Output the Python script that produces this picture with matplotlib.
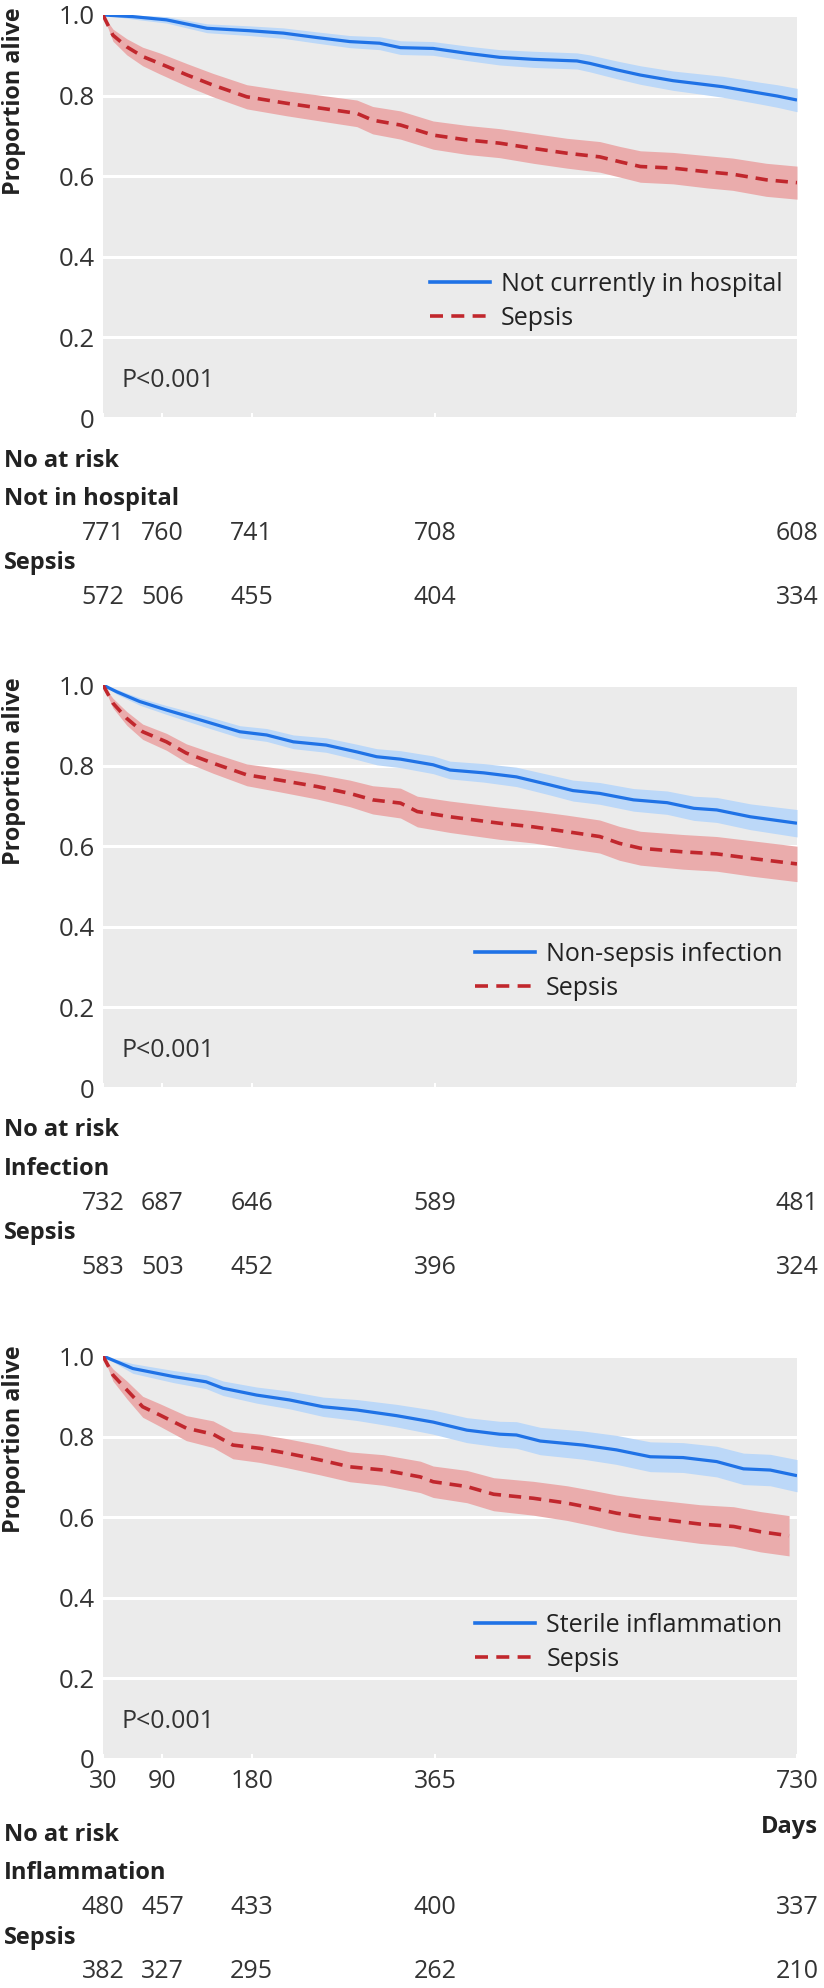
import matplotlib
matplotlib.use('Agg')
import matplotlib.pyplot as plt
from matplotlib.transforms import blended_transform_factory as btf
from matplotlib.lines import Line2D

plt.rcParams['font.family'] = ['Open Sans', 'DejaVu Sans']

# ---------------- data ----------------
risk_days = [30, 90, 180, 365, 730]
x_ticks = [30, 90, 180, 365, 730]
y_ticks = [0, 0.2, 0.4, 0.6, 0.8, 1.0]
y_tick_labels = ['0', '0.2', '0.4', '0.6', '0.8', '1.0']

# Panel 1: Not currently in hospital vs Sepsis
p1_ctrl_days = [30, 60, 94, 135, 178, 212, 246, 279, 309, 330, 363, 397, 430, 464, 508, 521, 548, 572, 605, 632, 655, 693, 710, 730]
p1_ctrl_surv = [1.0, .996, .988, .967, .961, .955, .944, .934, .930, .919, .917, .905, .895, .890, .886, .880, .864, .851, .837, .829, .822, .806, .799, .789]
p1_ctrl_lo = [1.0, .990, .980, .956, .949, .942, .930, .919, .914, .902, .900, .887, .876, .870, .866, .859, .842, .828, .813, .804, .796, .779, .771, .760]
p1_ctrl_hi = [1.0, 1.0, .996, .978, .973, .968, .958, .949, .946, .936, .934, .923, .914, .910, .906, .901, .886, .874, .861, .854, .848, .833, .827, .818]

p1_sep_days = [30, 40, 54, 70, 87, 115, 141, 175, 215, 249, 286, 302, 330, 363, 397, 430, 464, 498, 531, 551, 572, 605, 639, 665, 699, 730]
p1_sep_surv = [1.0, .950, .921, .897, .880, .851, .826, .797, .781, .769, .756, .739, .727, .702, .690, .682, .669, .657, .648, .636, .624, .620, .611, .605, .591, .584]
p1_sep_lo = [1.0, .935, .901, .874, .854, .823, .797, .767, .750, .737, .723, .705, .692, .667, .654, .646, .632, .620, .610, .598, .585, .581, .571, .565, .550, .543]
p1_sep_hi = [1.0, .965, .941, .920, .906, .879, .855, .827, .812, .801, .789, .773, .762, .737, .726, .718, .706, .694, .686, .674, .663, .659, .651, .645, .632, .625]

p1_risk_ctrl = [771, 760, 741, 708, 608]
p1_risk_sep = [572, 506, 455, 404, 334]

# Panel 2: Non-sepsis infection vs Sepsis
p2_ctrl_days = [30, 44, 67, 94, 134, 168, 195, 222, 255, 286, 306, 330, 363, 380, 414, 447, 481, 504, 531, 565, 599, 626, 649, 683, 730]
p2_ctrl_surv = [1.0, .983, .959, .938, .909, .884, .876, .859, .851, .834, .822, .816, .802, .789, .782, .772, .752, .738, .731, .715, .708, .694, .690, .673, .657]
p2_ctrl_lo = [1.0, .977, .950, .927, .895, .869, .860, .842, .833, .815, .802, .795, .780, .767, .759, .748, .727, .712, .704, .687, .679, .664, .659, .641, .623]
p2_ctrl_hi = [1.0, .989, .968, .949, .923, .899, .892, .876, .869, .853, .842, .837, .824, .811, .805, .796, .777, .764, .758, .743, .737, .724, .721, .705, .691]

p2_sep_days = [30, 40, 54, 70, 94, 114, 141, 175, 208, 246, 279, 302, 330, 347, 380, 430, 464, 498, 531, 551, 572, 615, 649, 683, 730]
p2_sep_surv = [1.0, .955, .917, .884, .859, .831, .806, .777, .764, .748, .731, .715, .707, .686, .673, .657, .648, .636, .624, .607, .595, .586, .581, .570, .556]
p2_sep_lo = [1.0, .943, .900, .865, .838, .808, .781, .750, .735, .717, .698, .680, .670, .648, .634, .617, .608, .595, .583, .565, .553, .543, .538, .526, .512]
p2_sep_hi = [1.0, .967, .934, .903, .880, .854, .831, .804, .793, .779, .764, .750, .744, .724, .712, .697, .688, .677, .665, .649, .637, .629, .624, .614, .600]

p2_risk_ctrl = [732, 687, 646, 589, 481]
p2_risk_sep = [583, 503, 452, 396, 324]

# Panel 3: Sterile inflammation vs Sepsis
p3_ctrl_days = [30, 60, 101, 134, 151, 185, 218, 252, 286, 326, 363, 397, 430, 447, 471, 514, 548, 582, 615, 649, 676, 703, 730]
p3_ctrl_surv = [1.0, .969, .949, .936, .920, .903, .891, .874, .866, .852, .836, .816, .806, .804, .789, .779, .767, .750, .748, .738, .720, .717, .703]
p3_ctrl_lo = [1.0, .957, .934, .919, .902, .883, .869, .850, .840, .824, .806, .785, .774, .771, .755, .744, .731, .713, .711, .700, .681, .678, .663]
p3_ctrl_hi = [1.0, .981, .964, .953, .938, .923, .913, .898, .892, .880, .866, .847, .838, .837, .823, .814, .803, .787, .785, .776, .759, .756, .743]

p3_sep_days = [30, 40, 54, 70, 87, 114, 141, 161, 188, 215, 249, 279, 313, 350, 363, 397, 424, 464, 498, 525, 548, 572, 599, 632, 666, 693, 722]
p3_sep_surv = [1.0, .953, .916, .874, .854, .821, .806, .779, .771, .759, .742, .725, .717, .700, .688, .676, .657, .647, .635, .622, .610, .601, .593, .583, .577, .564, .554]
p3_sep_lo = [1.0, .938, .894, .848, .826, .790, .773, .745, .736, .723, .705, .688, .679, .661, .649, .636, .616, .605, .592, .578, .565, .555, .546, .535, .528, .514, .504]
p3_sep_hi = [1.0, .968, .938, .900, .882, .852, .839, .813, .806, .795, .779, .762, .755, .739, .727, .716, .698, .689, .678, .666, .655, .647, .640, .631, .626, .614, .604]

p3_risk_ctrl = [480, 457, 433, 400, 337]
p3_risk_sep = [382, 327, 295, 262, 210]

ctrl_legend = ['Not currently in hospital', 'Non-sepsis infection', 'Sterile inflammation']
ctrl_row = ['Not in hospital', 'Infection', 'Inflammation']

# ---------------- style ----------------
BLUE = '#1f72e6'
RED = '#c1272d'
BLUE_BAND = '#bcd8f8'
RED_BAND = '#eaacac'
BG = '#ebebeb'
TXT = '#333333'
DARK = '#222222'

W, H = 824, 1988
DPI = 100
fig = plt.figure(figsize=(W / DPI, H / DPI), dpi=DPI)


def fy(px):
    return 1 - px / H


panels = [
    dict(top=15, ctrl=(p1_ctrl_days, p1_ctrl_surv, p1_ctrl_lo, p1_ctrl_hi),
         sep=(p1_sep_days, p1_sep_surv, p1_sep_lo, p1_sep_hi),
         risk=(p1_risk_ctrl, p1_risk_sep), ylab_top=7,
         rows=[461, 499, 533, 563, 597], xlabels=False),
    dict(top=685, ctrl=(p2_ctrl_days, p2_ctrl_surv, p2_ctrl_lo, p2_ctrl_hi),
         sep=(p2_sep_days, p2_sep_surv, p2_sep_lo, p2_sep_hi),
         risk=(p2_risk_ctrl, p2_risk_sep), ylab_top=677,
         rows=[1130, 1169, 1203, 1233, 1267], xlabels=False),
    dict(top=1356, ctrl=(p3_ctrl_days, p3_ctrl_surv, p3_ctrl_lo, p3_ctrl_hi),
         sep=(p3_sep_days, p3_sep_surv, p3_sep_lo, p3_sep_hi),
         risk=(p3_risk_ctrl, p3_risk_sep), ylab_top=1345,
         rows=[1835, 1873, 1907, 1938, 1971], xlabels=True),
]

AX_LEFT, AX_W, AX_H = 103, 694, 403

for i, p in enumerate(panels):
    ax = fig.add_axes([AX_LEFT / W, fy(p['top'] + AX_H), AX_W / W, AX_H / H])
    ax.set_facecolor(BG)
    for s in ax.spines.values():
        s.set_visible(False)
    ax.set_xlim(30, 730)
    ax.set_ylim(0, 1)
    ax.set_axisbelow(True)
    ax.yaxis.grid(True, color='white', lw=2.2)
    ax.set_yticks(y_ticks)
    ax.set_yticklabels(y_tick_labels)
    ax.tick_params(axis='y', length=0, pad=6, labelsize=18.5, labelcolor=TXT)
    ax.set_xticks(x_ticks)
    ax.tick_params(axis='x', direction='in', length=3.6, width=1.5, color='white',
                   labelbottom=p['xlabels'], pad=7, labelsize=18, labelcolor=TXT)

    cd, cs, cl, ch = p['ctrl']
    sd, ss, sl, sh = p['sep']
    ax.fill_between(cd, cl, ch, color=BLUE_BAND, lw=0, zorder=1)
    ax.fill_between(sd, sl, sh, color=RED_BAND, lw=0, zorder=1)
    ax.plot(cd, cs, color=BLUE, lw=2.3, zorder=3, solid_capstyle='butt')
    ax.plot(sd, ss, color=RED, lw=2.6, ls=(0, (3.4, 2.2)), zorder=3)

    handles = [Line2D([], [], color=BLUE, lw=2.6),
               Line2D([], [], color=RED, lw=2.6, ls=(0, (3.6, 2.3)))]
    ax.legend(handles, [ctrl_legend[i], 'Sepsis'], loc='upper right',
              bbox_to_anchor=(0.979, 0.362), frameon=False, fontsize=18,
              handlelength=2.4, handletextpad=0.45, labelspacing=0.36,
              borderaxespad=0, borderpad=0, labelcolor=DARK)

    ax.text(0.027, 0.094, 'P<0.001', transform=ax.transAxes, ha='left', va='center',
            fontsize=18, color=TXT)

    fig.text(14 / W, fy(p['ylab_top']), 'Proportion alive', rotation=90, ha='center',
             va='top', fontsize=16.8, fontweight='bold', color=DARK)

    r = p['rows']
    fig.text(4 / W, fy(r[0]), 'No at risk', ha='left', va='center', fontsize=17,
             fontweight='bold', color=DARK)
    fig.text(4 / W, fy(r[1]), ctrl_row[i], ha='left', va='center', fontsize=17,
             fontweight='bold', color=DARK)
    fig.text(4 / W, fy(r[3]), 'Sepsis', ha='left', va='center', fontsize=17,
             fontweight='bold', color=DARK)
    tr = btf(ax.transData, fig.transFigure)
    rc, rs = p['risk']
    for xd, n in zip(risk_days, rc):
        ax.text(xd, fy(r[2]), str(n), transform=tr, ha='center', va='center',
                fontsize=18, color=TXT)
    for xd, n in zip(risk_days, rs):
        ax.text(xd, fy(r[4]), str(n), transform=tr, ha='center', va='center',
                fontsize=18, color=TXT)

fig.text(818 / W, fy(1827), 'Days', ha='right', va='center', fontsize=17,
         fontweight='bold', color=DARK)

fig.savefig('out.png', dpi=DPI)
